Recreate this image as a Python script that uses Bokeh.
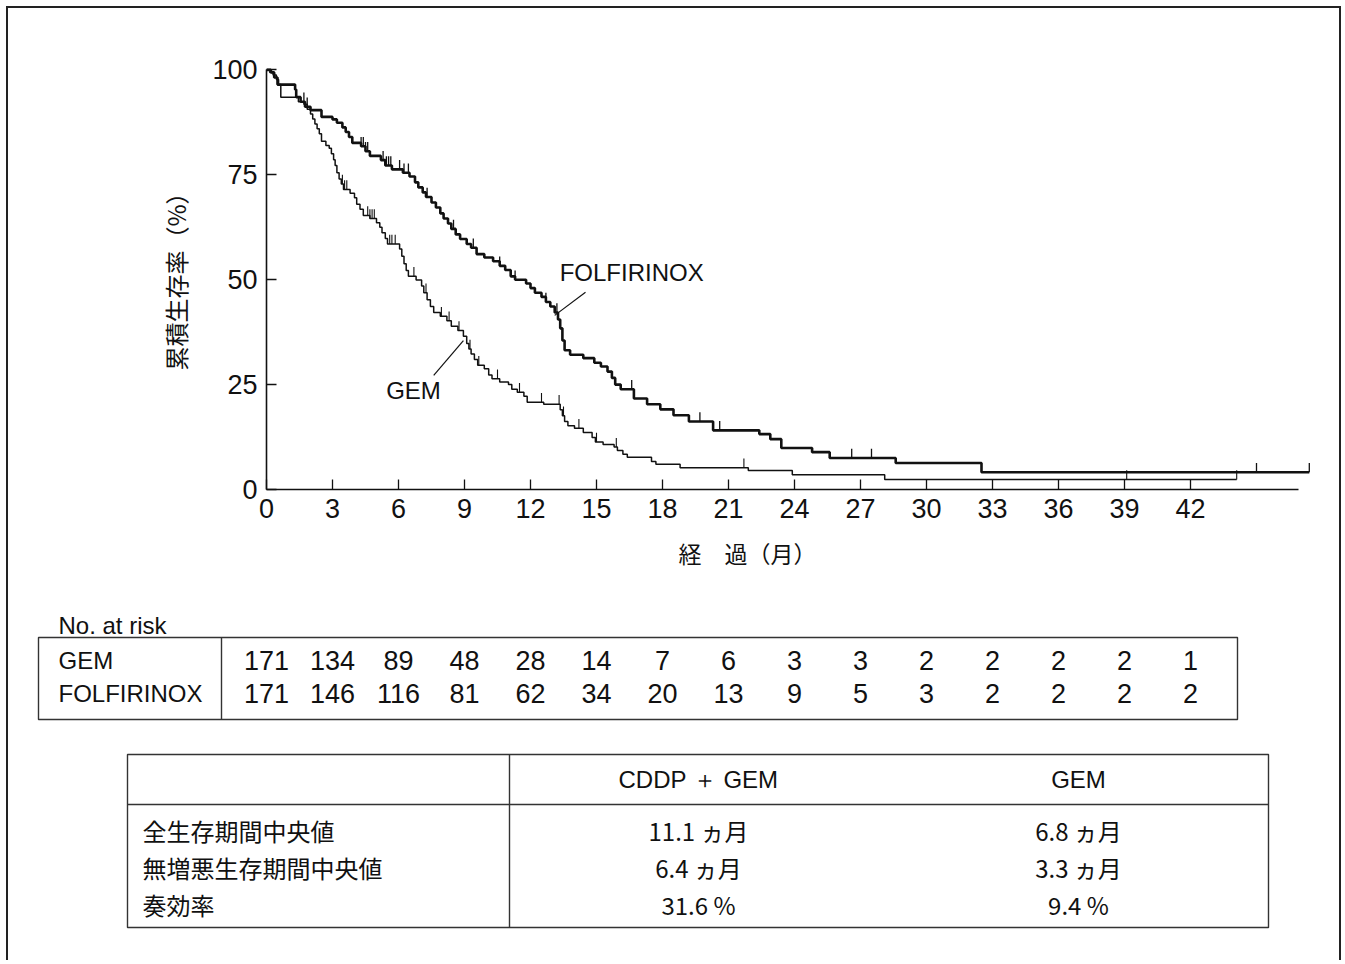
import numpy as np
from bokeh.plotting import figure
from bokeh.models import Range1d, FixedTicker, Label, ColumnDataSource
from bokeh.layouts import column
from bokeh.embed import file_html
from bokeh.resources import INLINE
from bokeh.core.properties import value

# ---------------- data ----------------
tick_months = [0, 3, 6, 9, 12, 15, 18, 21, 24, 27, 30, 33, 36, 39, 42]
risk_groups = ["GEM", "FOLFIRINOX"]
risk_gem = [171, 134, 89, 48, 28, 14, 7, 6, 3, 3, 2, 2, 2, 2, 1]
risk_folf = [171, 146, 116, 81, 62, 34, 20, 13, 9, 5, 3, 2, 2, 2, 2]

gem_t = [0.15, 0.3, 0.45, 0.55, 0.65, 1.45, 1.7, 1.85, 2.0, 2.1, 2.2, 2.3, 2.4, 2.5, 2.7,
         2.85, 2.95, 3.05, 3.12, 3.2, 3.3, 3.4, 3.5, 3.8, 4.0, 4.1, 4.25, 4.4, 4.7, 5.0,
         5.15, 5.25, 5.4, 5.5, 6.05, 6.15, 6.25, 6.35, 6.45, 6.8, 7.05, 7.15, 7.3, 7.45,
         7.6, 7.9, 8.2, 8.4, 8.7, 8.95, 9.1, 9.2, 9.3, 9.45, 9.6, 9.9, 10.1, 10.25, 10.6,
         11.0, 11.15, 11.4, 11.7, 11.85, 12.6, 13.35, 13.45, 13.55, 13.7, 14.0, 14.4, 14.8,
         14.95, 15.3, 15.8, 15.95, 16.2, 16.4, 17.5, 17.7, 18.8, 21.9, 23.9, 28.1]
gem_s = [99.4, 98.8, 97.7, 96.5, 93.5, 92.4, 91.8, 90.6, 89.5, 88.3, 87.1, 86.0, 84.8, 83.0, 82.0,
         81.3, 80.0, 78.6, 77.2, 75.5, 74.0, 72.8, 71.5, 70.6, 69.5, 68.0, 66.8, 65.3, 64.6, 63.6,
         62.5, 61.2, 59.8, 58.5, 57.3, 55.6, 53.8, 52.2, 50.8, 49.9, 48.5, 46.9, 45.2, 43.6,
         42.2, 41.3, 40.2, 38.9, 37.9, 36.5, 34.8, 33.5, 32.3, 31.0, 29.6, 28.8, 27.3, 26.4, 25.6,
         25.0, 23.9, 23.2, 22.2, 20.8, 20.3, 19.0, 17.6, 16.2, 15.2, 14.6, 13.6, 12.4,
         11.3, 10.7, 10.1, 9.3, 8.4, 7.7, 6.7, 6.0, 5.2, 4.5, 3.5, 2.4]
gem_end = 44.1
gem_censor = [3.45, 3.55, 3.65, 4.6, 4.7, 4.8, 4.9, 5.6, 5.7, 5.85, 6.7, 7.25, 7.95, 8.3, 8.75,
              9.25, 9.65, 10.5, 11.5, 12.5, 13.3, 13.5, 14.2, 15.0, 15.9, 21.7, 39.1, 44.1]

folf_t = [0.2, 0.35, 0.5, 1.3, 1.35, 1.55, 1.75, 2.0, 2.5, 3.0, 3.2, 3.45, 3.6, 3.75, 3.9,
          4.3, 4.5, 4.7, 5.2, 5.4, 5.7, 6.2, 6.5, 6.75, 6.9, 7.1, 7.25, 7.5, 7.7, 7.9, 8.05,
          8.25, 8.4, 8.6, 8.8, 9.1, 9.3, 9.55, 9.9, 10.3, 10.6, 10.85, 11.1, 11.3, 11.8, 12.0,
          12.2, 12.5, 12.7, 12.9, 13.1, 13.25, 13.35, 13.45, 13.55, 13.8, 14.4, 14.9, 15.2,
          15.5, 15.7, 15.85, 16.1, 16.7, 17.3, 17.9, 18.5, 19.2, 20.3, 22.4, 22.9, 23.4,
          24.8, 25.6, 28.6, 32.5]
folf_s = [99.4, 98.2, 96.5, 95.3, 93.5, 92.4, 91.2, 90.4, 88.8, 88.2, 87.4, 86.3, 85.2, 84.0, 82.6,
          81.8, 80.6, 79.5, 78.5, 77.2, 76.3, 75.5, 74.6, 73.2, 72.0, 70.8, 69.7, 68.4, 67.2, 65.8, 64.6,
          63.4, 62.1, 60.8, 59.7, 58.5, 57.6, 56.1, 55.3, 54.4, 53.3, 52.3, 50.8, 50.0, 49.1, 48.0,
          46.9, 45.9, 44.7, 43.6, 42.2, 40.5, 38.4, 35.5, 33.2, 32.1, 31.3, 30.2, 29.3,
          28.1, 26.6, 25.0, 23.9, 21.7, 20.3, 19.1, 17.7, 16.2, 14.1, 13.2, 12.0, 9.9,
          8.9, 7.5, 6.3, 4.1]
folf_end = 47.4
folf_censor = [1.7, 1.85, 4.3, 4.4, 4.5, 4.6, 5.3, 5.45, 5.55, 5.65, 6.05, 6.25, 6.45, 7.3, 8.5,
               9.4, 10.6, 11.3, 12.7, 13.2, 16.6, 19.7, 20.6, 26.6, 27.5, 45.0, 47.4]

summary_header = ["CDDP ＋ GEM", "GEM"]
summary_rows = ["全生存期間中央値", "無増悪生存期間中央値", "奏効率"]
summary_cddp_gem = ["11.1 ヵ月", "6.4 ヵ月", "31.6 %"]
summary_gem = ["6.8 ヵ月", "3.3 ヵ月", "9.4 %"]

LATIN = "Liberation Sans"
CJK = "Noto Sans CJK JP"
INK = "#111111"
RULE = "#333333"
FRAME = "2px solid #222222"


def step_xy(times, surv, end):
    return [0.0] + list(times) + [end], [100.0] + list(surv) + [surv[-1]]


def surv_at(times, surv, t):
    i = int(np.searchsorted(np.array(times), t, side="right"))
    return 100.0 if i == 0 else surv[i - 1]


# page geometry (content starts at page x=8, y=8 inside a 2px frame)
CX0, CX1 = 8, 1339
W = CX1 - CX0

# ---------------- KM figure ----------------
p = figure(width=W, height=522, x_range=Range1d(0, 48), y_range=Range1d(0, 102),
           output_backend="svg", toolbar_location=None,
           min_border_left=258, min_border_right=W - 258 - 1056, min_border_top=53,
           min_border_bottom=41)
p.outline_line_color = None
p.xgrid.visible = False
p.ygrid.visible = False
p.background_fill_color = "white"
p.border_fill_color = "white"

for ax in (p.xaxis[0], p.yaxis[0]):
    ax.axis_line_width = 1.6
    ax.axis_line_color = INK
    ax.major_tick_in = 10
    ax.major_tick_out = 0
    ax.major_tick_line_width = 1.3
    ax.major_tick_line_color = INK
    ax.minor_tick_line_color = None
    ax.major_label_text_font = LATIN
    ax.major_label_text_font_size = "27px"
    ax.major_label_text_color = INK
    ax.major_label_standoff = 9

p.xaxis[0].ticker = FixedTicker(ticks=tick_months)
p.xaxis[0].bounds = (0, 46.9)
p.yaxis[0].ticker = FixedTicker(ticks=[0, 25, 50, 75, 100])
p.yaxis[0].bounds = (0, 100)
p.yaxis[0].axis_label = "累積生存率（%）"
p.yaxis[0].axis_label_text_font = CJK
p.yaxis[0].axis_label_text_font_size = "24px"
p.yaxis[0].axis_label_text_font_style = "normal"
p.yaxis[0].axis_label_text_color = INK
p.yaxis[0].axis_label_standoff = 16

gx, gy = step_xy(gem_t, gem_s, gem_end)
fx, fy = step_xy(folf_t, folf_s, folf_end)
p.step(gx, gy, mode="after", line_color=INK, line_width=1.5)
p.step(fx, fy, mode="after", line_color=INK, line_width=2.6)

gcy = [surv_at(gem_t, gem_s, t) for t in gem_censor]
fcy = [surv_at(folf_t, folf_s, t) for t in folf_censor]
p.segment(x0=gem_censor, y0=gcy, x1=gem_censor, y1=[v + 2.2 for v in gcy],
          line_color=INK, line_width=1.1)
p.segment(x0=folf_censor, y0=fcy, x1=folf_censor, y1=[v + 2.2 for v in fcy],
          line_color=INK, line_width=1.3)

# series labels with leader lines
p.segment(x0=[14.5, 7.6], y0=[47.0, 27.2], x1=[13.1, 8.95], y1=[41.5, 35.5],
          line_color=INK, line_width=1.2)
p.add_layout(Label(x=16.6, y=51.7, text="FOLFIRINOX", text_font=LATIN, text_font_size="24px",
                   text_color=INK, text_align="center", text_baseline="middle"))
p.add_layout(Label(x=6.68, y=23.6, text="GEM", text_font=LATIN, text_font_size="24px",
                   text_color=INK, text_align="center", text_baseline="middle"))

# ---------------- tables figure (page-pixel coordinates) ----------------
T_TOP, T_BOT = 530, 960
q = figure(width=W, height=T_BOT - T_TOP, x_range=Range1d(CX0, CX1), y_range=Range1d(T_BOT, T_TOP),
           output_backend="svg", toolbar_location=None, x_axis_location=None, y_axis_location=None,
           min_border=0, min_border_left=0, min_border_right=0, min_border_top=0, min_border_bottom=0)
q.outline_line_color = None
q.xgrid.visible = False
q.ygrid.visible = False
q.extra_x_ranges = {"month": Range1d((CX0 - 266) / 22.0, (CX1 - 266) / 22.0)}

# x-axis title of KM plot
q.text(x=[747], y=[552], text=["経　過（月）"], text_font=value(CJK), text_font_size=value("23px"),
       text_color=INK, text_align="center", text_baseline="middle")

# at-risk table
q.text(x=[58], y=[625], text=["No. at risk"], text_font=value(LATIN), text_font_size=value("24px"),
       text_color=INK, text_align="left", text_baseline="middle")
q.quad(left=[38], right=[1237], top=[637], bottom=[719], fill_color=None, line_color=RULE,
       line_width=1.4)
q.line(x=[221, 221], y=[637, 719], line_color=RULE, line_width=1.4)
row_y = [660, 693]
q.text(x=[58, 58], y=row_y, text=risk_groups, text_font=value(LATIN), text_font_size=value("24px"),
       text_color=INK, text_align="left", text_baseline="middle")
for vals, yy in zip([risk_gem, risk_folf], row_y):
    src = ColumnDataSource(dict(x=tick_months, y=[yy] * len(vals), t=[str(v) for v in vals]))
    q.text(x="x", y="y", text="t", source=src, x_range_name="month", text_font=value(LATIN),
           text_font_size=value("27px"), text_color=INK, text_align="center", text_baseline="middle")

# summary table
q.quad(left=[127], right=[1268], top=[754], bottom=[927], fill_color=None, line_color=RULE,
       line_width=1.4)
q.line(x=[127, 1268], y=[804, 804], line_color=RULE, line_width=1.4)
q.line(x=[509, 509], y=[754, 927], line_color=RULE, line_width=1.4)
col_x = [698, 1078]
q.text(x=col_x, y=[779, 779], text=summary_header, text_font=value(LATIN),
       text_font_size=value("24px"), text_color=INK, text_align="center", text_baseline="middle")
srow_y = [830, 867, 904]
q.text(x=[142] * 3, y=srow_y, text=summary_rows, text_font=value(CJK), text_font_size=value("24px"),
       text_color=INK, text_align="left", text_baseline="middle")
q.text(x=[col_x[0]] * 3, y=srow_y, text=summary_cddp_gem, text_font=value(CJK),
       text_font_size=value("24px"), text_color=INK, text_align="center", text_baseline="middle")
q.text(x=[col_x[1]] * 3, y=srow_y, text=summary_gem, text_font=value(CJK),
       text_font_size=value("24px"), text_color=INK, text_align="center", text_baseline="middle")

top_box = column(p, styles={"border-top": FRAME, "border-left": FRAME, "border-right": FRAME,
                            "margin-left": "6px", "margin-top": "6px"})
bottom_box = column(q, styles={"border-left": FRAME, "border-right": FRAME, "margin-left": "6px"})

open("out.html", "w").write(file_html([top_box, bottom_box], INLINE))
